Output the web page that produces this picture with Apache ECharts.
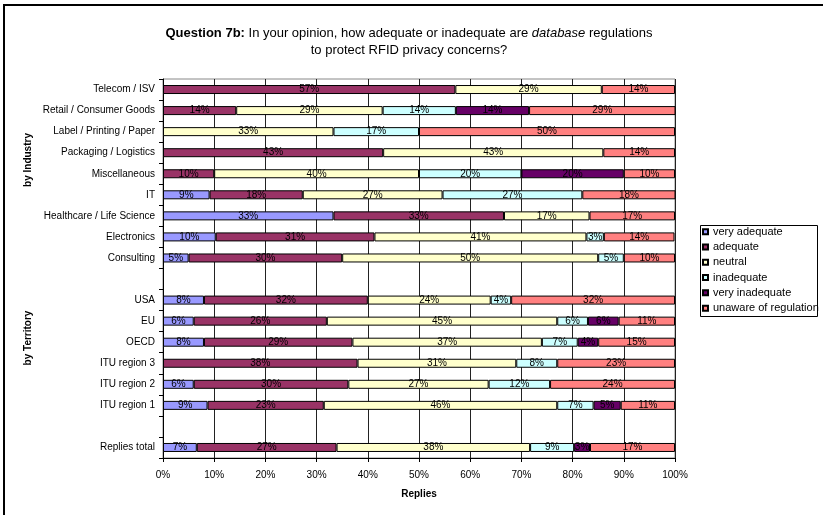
<!DOCTYPE html>
<html>
<head>
<meta charset="utf-8">
<script src="https://cdn.jsdelivr.net/npm/echarts@6/dist/echarts.min.js"></script>
<style>html,body{margin:0;padding:0;background:#fff;}#c{width:823px;height:515px;}</style>
</head>
<body>
<div id="c"></div>
<script>
var categories = ['Telecom / ISV', 'Retail / Consumer Goods', 'Label / Printing / Paper', 'Packaging / Logistics', 'Miscellaneous', 'IT', 'Healthcare / Life Science', 'Electronics', 'Consulting', ' ', 'USA', 'EU', 'OECD', 'ITU region 3', 'ITU region 2', 'ITU region 1', '  ', 'Replies total'];
var seriesNames = ['very adequate', 'adequate', 'neutral', 'inadequate', 'very inadequate', 'unaware of regulation'];
var veryAdequate   = [0,    0,    0,    0,  0,  9.1, 33.3, 10.3, 5,  0, 8,  6,  8,  0,  6.0, 8.7, 0, 6.6];
var adequate       = [57.1, 14.3, 0,    43, 10, 18.2, 33.3, 31.0, 30, 0, 32, 26, 29, 38, 30.2, 22.7, 0, 27.3];
var neutral        = [28.6, 28.6, 33.3, 43, 40, 27.3, 16.7, 41.4, 50, 0, 24, 45, 37, 31, 27.4, 45.6, 0, 37.8];
var inadequate     = [0,    14.3, 16.7, 0,  20, 27.3, 0,    3.4,  5,  0, 4,  6,  7,  8,  12.0, 7.1, 0, 8.6];
var veryInadequate = [0,    14.3, 0,    0,  20, 0,    0,    0,    0,  0, 0,  6,  4,  0,  0,    5.3, 0, 3.1];
var unaware        = [14.3, 28.6, 50,   14, 10, 18.2, 16.7, 13.8, 10, 0, 32, 11, 15, 23, 24.4, 10.6, 0, 16.6];
var xTicks = [0, 10, 20, 30, 40, 50, 60, 70, 80, 90, 100];

var colors = ['#9999FF', '#993366', '#FFFFCC', '#CCFFFF', '#660066', '#FF8080'];
var allValues = [veryAdequate, adequate, neutral, inadequate, veryInadequate, unaware];
var FONT = 'Liberation Sans, Arial, sans-serif';

var series = seriesNames.map(function (name, i) {
  return {
    name: name,
    type: 'bar',
    stack: 'total',
    barWidth: 9,
    itemStyle: { color: colors[i], borderColor: '#000', borderWidth: 1 },
    label: {
      show: true,
      position: 'inside',
      color: '#000',
      fontSize: 10,
      fontFamily: FONT,
      formatter: function (p) { return p.value > 0 ? Math.round(p.value) + '%' : ''; }
    },
    emphasis: { disabled: true },
    data: allValues[i].map(function (v) { return v > 0 ? v : '-'; })
  };
});

var chart = echarts.init(document.getElementById('c'), null, { renderer: 'canvas' });
chart.setOption({
  animation: false,
  backgroundColor: '#fff',
  textStyle: { fontFamily: FONT },
  title: {
    text: '{b|Question 7b:} In your opinion, how adequate or inadequate are {i|database} regulations\nto protect RFID privacy concerns?',
    left: 409,
    top: 25,
    padding: 0,
    textAlign: 'center',
    textStyle: {
      fontSize: 13,
      fontWeight: 'normal',
      color: '#000',
      fontFamily: FONT,
      lineHeight: 17,
      rich: {
        b: { fontWeight: 'bold', fontSize: 13, color: '#000', fontFamily: FONT, lineHeight: 17 },
        i: { fontStyle: 'italic', fontSize: 13, color: '#000', fontFamily: FONT, lineHeight: 17 }
      }
    }
  },
  legend: {
    orient: 'vertical',
    left: 702,
    top: 224,
    itemWidth: 5,
    itemHeight: 5,
    itemGap: 0,
    icon: 'rect',
    padding: 0,
    selectedMode: false,
    textStyle: { fontSize: 11, color: '#000', fontFamily: FONT, lineHeight: 15.3 },
    data: seriesNames
  },
  grid: { left: 163, right: 148, top: 79, bottom: 57, show: true, borderColor: '#888', borderWidth: 1 },
  xAxis: {
    type: 'value',
    min: xTicks[0],
    max: xTicks[xTicks.length - 1],
    interval: 10,
    name: 'Replies',
    nameLocation: 'middle',
    nameGap: 31,
    nameTextStyle: { fontWeight: 'bold', fontSize: 10, color: '#000', fontFamily: FONT },
    axisLine: { show: true, lineStyle: { color: '#000', width: 1 } },
    axisTick: { show: true, length: 4, lineStyle: { color: '#000' } },
    axisLabel: { fontSize: 10, color: '#000', margin: 12, formatter: '{value}%', fontFamily: FONT },
    splitLine: { show: true, lineStyle: { color: '#222', width: 1 } }
  },
  yAxis: {
    type: 'category',
    inverse: true,
    data: categories,
    axisLine: { show: true, lineStyle: { color: '#000', width: 1 } },
    axisTick: { show: true, length: 4, lineStyle: { color: '#000' } },
    axisLabel: { fontSize: 10, color: '#000', margin: 8, fontFamily: FONT },
    splitLine: { show: false }
  },
  graphic: [
    { type: 'rect', shape: { x: 4, y: 5, width: 900, height: 600 }, style: { fill: 'none', stroke: '#000', lineWidth: 2 }, silent: true },
    { type: 'rect', shape: { x: 700.5, y: 225.5, width: 117, height: 91 }, style: { fill: 'none', stroke: '#000', lineWidth: 1 }, silent: true, z: -1 },
    { type: 'text', x: 28, y: 160, rotation: Math.PI / 2, style: { text: 'by Industry', fontSize: 10, fontWeight: 'bold', fill: '#000', fontFamily: FONT, align: 'center', verticalAlign: 'middle' } },
    { type: 'text', x: 28, y: 338, rotation: Math.PI / 2, style: { text: 'by Territory', fontSize: 10, fontWeight: 'bold', fill: '#000', fontFamily: FONT, align: 'center', verticalAlign: 'middle' } }
  ],
  series: series
});
</script>
</body>
</html>
